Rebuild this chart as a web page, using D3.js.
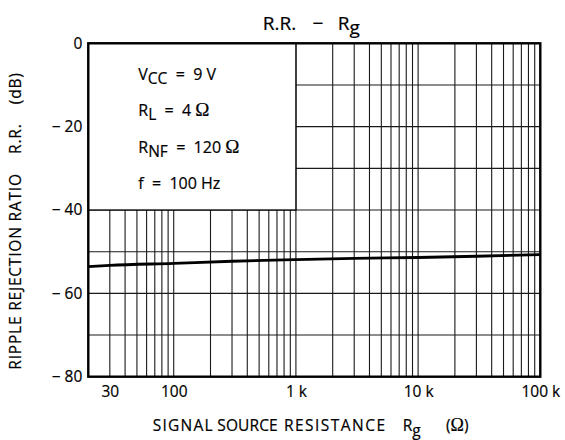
<!DOCTYPE html>
<html>
<head>
<meta charset="utf-8">
<script src="https://cdn.jsdelivr.net/npm/d3@7"></script>
<style>
  html, body { margin: 0; padding: 0; background: #fff; }
  svg text { font-family: "Open Sans", "Noto Sans", sans-serif; fill: #000; white-space: pre;
             stroke: #000; stroke-width: 0.2px; }
  .omega { font-family: "Liberation Serif", "DejaVu Serif", serif; }
</style>
</head>
<body>
<svg id="chart" width="565" height="440"></svg>
<script>
// Ripple rejection ratio vs. signal source resistance
const sourceResistance = [20, 30, 100, 300, 1000, 3000, 10000, 30000, 100000]; // Ω
const rippleRejection  = [-53.6, -53.3, -52.8, -52.3, -51.9, -51.6, -51.4, -51.1, -50.7]; // dB

const xTickValues = [30, 100, 1000, 10000, 100000];
const xTickLabels = ["30", "100", "1 k", "10 k", "100 k"];
const yTickValues = [0, -20, -40, -60, -80];
const yTickLabels = ["0", "\u2212 20", "\u2212 40", "\u2212 60", "\u2212 80"];
const yGridValues = [0, -10, -20, -30, -40, -50, -60, -70, -80];

const xDomain = [20, 100000];
const yDomain = [-80, 0];

const margin = { left: 88.3, right: 565 - 540.3, top: 43.3, bottom: 440 - 376.7 };
const W = 565, H = 440;

const svg = d3.select("#chart");
const x = d3.scaleLog().domain(xDomain).range([margin.left, W - margin.right]);
const y = d3.scaleLinear().domain(yDomain).range([H - margin.bottom, margin.top]);

// log grid: 1..9 per decade
const xGridValues = [];
for (let e = 1; e <= 5; e++) {
  for (let m = 1; m <= 9; m++) {
    const v = m * Math.pow(10, e);
    if (v >= xDomain[0] && v <= xDomain[1]) xGridValues.push(v);
  }
}

const grid = svg.append("g").attr("stroke", "#1a1a1a").attr("stroke-width", 1.1);
grid.selectAll("line.v").data(xGridValues).join("line")
  .attr("class", "v")
  .attr("x1", d => x(d)).attr("x2", d => x(d))
  .attr("y1", y(0)).attr("y2", y(-80));
grid.selectAll("line.h").data(yGridValues).join("line")
  .attr("class", "h")
  .attr("x1", x(xDomain[0])).attr("x2", x(xDomain[1]))
  .attr("y1", d => y(d)).attr("y2", d => y(d));

// condition box (blank region in the upper left)
svg.append("rect")
  .attr("x", x(xDomain[0])).attr("y", y(0))
  .attr("width", x(1000) - x(xDomain[0]))
  .attr("height", y(-40) - y(0))
  .attr("fill", "#fff")
  .attr("stroke", "#000").attr("stroke-width", 1.3);

// frame
svg.append("rect")
  .attr("x", x(xDomain[0])).attr("y", y(0))
  .attr("width", x(xDomain[1]) - x(xDomain[0]))
  .attr("height", y(-80) - y(0))
  .attr("fill", "none").attr("stroke", "#000").attr("stroke-width", 2.4);

// curve
const line = d3.line().x(d => x(d[0])).y(d => y(d[1])).curve(d3.curveMonotoneX);
svg.append("path")
  .datum(sourceResistance.map((r, i) => [r, rippleRejection[i]]))
  .attr("d", line)
  .attr("fill", "none").attr("stroke", "#000").attr("stroke-width", 2.8);

// axes (labels only; frame and grid drawn above)
const xAxis = d3.axisBottom(x).tickValues(xTickValues)
  .tickFormat((d, i) => xTickLabels[i]).tickSize(0).tickPadding(9);
const gx = svg.append("g").attr("transform", `translate(0,${y(-80)})`).call(xAxis);
gx.select(".domain").remove();
gx.selectAll("text").attr("font-size", 15.5).attr("fill", "#000")
  .style("font-family", "'Open Sans', sans-serif");

const yAxis = d3.axisLeft(y).tickValues(yTickValues)
  .tickFormat((d, i) => yTickLabels[i]).tickSize(0).tickPadding(6);
const gy = svg.append("g").attr("transform", `translate(${x(xDomain[0])},0)`).call(yAxis);
gy.select(".domain").remove();
gy.selectAll("text").attr("font-size", 15.5).attr("fill", "#000")
  .style("font-family", "'Open Sans', sans-serif");

// title
const title = svg.append("g").attr("font-size", 19);
title.append("text").attr("x", 262.7).attr("y", 29.5).text("R.R.");
title.append("text").attr("x", 312.5).attr("y", 29.5).text("\u2212");
const tR = title.append("text").attr("x", 337.7).attr("y", 29.5);
tR.append("tspan").text("R");
tR.append("tspan").attr("dy", 4.5).attr("font-size", 19).text("g");

// condition text
const cond = [
  { main: "V", sub: "CC", rest: "  =  9 V", omega: false },
  { main: "R", sub: "L", rest: "  =  4 ", omega: true },
  { main: "R", sub: "NF", rest: "  =  120 ", omega: true },
  { main: "f", sub: "", rest: "  =  100 Hz", omega: false }
];
const condBaselines = [80, 116, 152.5, 189];
cond.forEach((c, i) => {
  const t = svg.append("text").attr("x", 138.3).attr("y", condBaselines[i]).attr("font-size", 16);
  t.append("tspan").text(c.main);
  if (c.sub) t.append("tspan").attr("dy", 4).attr("font-size", 15.5).text(c.sub);
  t.append("tspan").attr("dy", c.sub ? -4 : 0).text(c.rest);
  if (c.omega) t.append("tspan").attr("class", "omega").attr("font-size", 19).text("\u03A9");
});

// x axis title
const xt = svg.append("g").attr("font-size", 15.5);
const xWords = [["SIGNAL", 152.7, 60], ["SOURCE", 217.3, 60.4], ["RESISTANCE", 284, 101]];
xWords.forEach(([w, px, len]) => {
  xt.append("text").attr("x", px).attr("y", 431).attr("textLength", len)
    .attr("lengthAdjust", "spacing").text(w);
});
const xR = xt.append("text").attr("x", 402.7).attr("y", 431);
xR.append("tspan").text("R");
xR.append("tspan").attr("dy", 4.5).text("g");
const xU = xt.append("text").attr("x", 446).attr("y", 431);
xU.append("tspan").text("(");
xU.append("tspan").attr("class", "omega").attr("font-size", 18).text("\u03A9");
xU.append("tspan").text(")");

// y axis title
svg.append("text")
  .attr("transform", "translate(20.5,221) rotate(-90)")
  .attr("text-anchor", "middle").attr("font-size", 15.5)
  .attr("letter-spacing", 0.8)
  .text("RIPPLE REJECTION RATIO    R.R.    (dB)");
</script>
</body>
</html>
